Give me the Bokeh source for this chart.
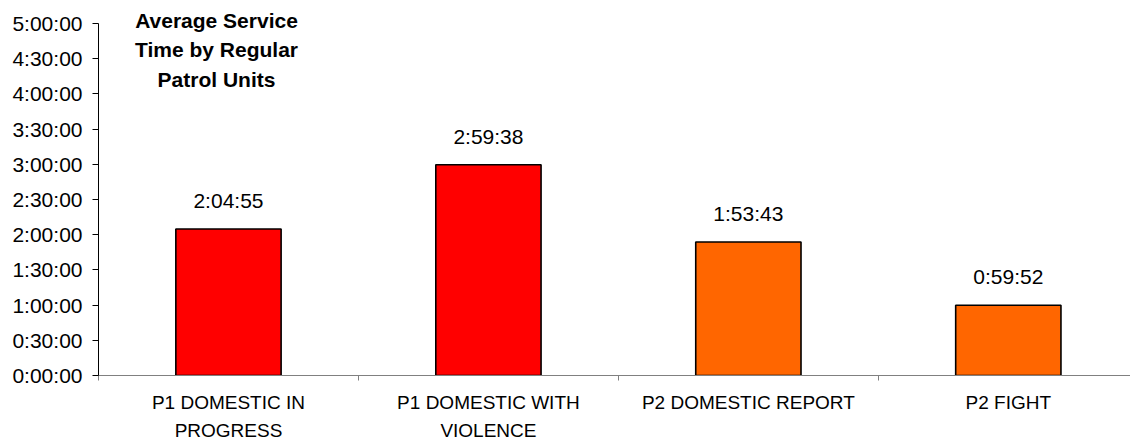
from bokeh.plotting import figure
from bokeh.models import Range1d, FixedTicker, ColumnDataSource, LabelSet, Label
from bokeh.core.properties import value
from bokeh.embed import file_html
from bokeh.resources import INLINE

# ---- data ----
categories = ["P1 DOMESTIC IN\nPROGRESS", "P1 DOMESTIC WITH\nVIOLENCE",
              "P2 DOMESTIC REPORT", "P2 FIGHT"]
service_seconds = [7495, 10778, 6823, 3592]          # 2:04:55, 2:59:38, 1:53:43, 0:59:52
bar_colors = ["#FF0000", "#FF0000", "#FF6600", "#FF6600"]
y_tick_labels = ["0:00:00", "0:30:00", "1:00:00", "1:30:00", "2:00:00", "2:30:00",
                 "3:00:00", "3:30:00", "4:00:00", "4:30:00", "5:00:00"]
y_tick_step = 1800
title_text = "Average Service\nTime by Regular\nPatrol Units"


def hms(s):
    return f"{s // 3600}:{(s % 3600) // 60:02d}:{s % 60:02d}"


centers = [i + 0.5 for i in range(len(categories))]
boundaries = list(range(len(categories) + 1))
y_ticks = [i * y_tick_step for i in range(len(y_tick_labels))]
y_max = y_ticks[-1]

src = ColumnDataSource(dict(x=centers, y=service_seconds, color=bar_colors,
                            label=[hms(v) for v in service_seconds]))

# frame spans the full canvas height above the axis so the title is not clipped;
# the axis itself is bounded to 0:00:00 .. 5:00:00
y_top = y_max * (375 / 352)

p = figure(width=1130, height=445, output_backend="svg", toolbar_location=None,
           x_range=Range1d(0, 3.97), y_range=Range1d(0, y_top),
           min_border_left=98, min_border_right=0, min_border_top=0, min_border_bottom=70)
p.xgrid.visible = False
p.ygrid.visible = False
p.outline_line_color = None
p.background_fill_color = "white"
p.border_fill_color = "white"

p.vbar(x="x", top="y", width=0.405, source=src, fill_color="color",
       line_color="black", line_width=1.6)

labels = LabelSet(x="x", y="y", text="label", source=src, text_align="center",
                  text_baseline="alphabetic", y_offset=21,
                  text_font=value("Liberation Sans"),
                  text_font_size=value("21px"), text_color="black")
p.add_layout(labels)

title = Label(x=0.454, y=y_max, y_offset=15, text=title_text, text_align="center",
              text_baseline="top", text_font="Liberation Sans", text_font_style="bold",
              text_font_size="21px", text_line_height=1.3, text_color="black")
p.add_layout(title)

# x axis
xa = p.xaxis[0]
xa.ticker = FixedTicker(ticks=centers, minor_ticks=boundaries)
xa.major_label_overrides = {c: n for c, n in zip(centers, categories)}
xa.major_tick_out = 0
xa.major_tick_in = 0
xa.minor_tick_out = 5
xa.minor_tick_in = 0
xa.minor_tick_line_color = "#808080"
xa.axis_line_color = "#808080"
xa.major_label_standoff = 11
xa.major_label_text_font = "Liberation Sans"
xa.major_label_text_font_size = "19px"
xa.major_label_text_line_height = 1.38
xa.major_label_text_color = "black"

# y axis
ya = p.yaxis[0]
ya.bounds = (0, y_max)
ya.ticker = FixedTicker(ticks=y_ticks, minor_ticks=[])
ya.major_label_overrides = {t: l for t, l in zip(y_ticks, y_tick_labels)}
ya.major_tick_out = 6
ya.major_tick_in = 0
ya.minor_tick_out = 0
ya.minor_tick_in = 0
ya.axis_line_color = "black"
ya.major_tick_line_color = "black"
ya.major_label_standoff = 10
ya.major_label_text_font = "Liberation Sans"
ya.major_label_text_font_size = "21px"
ya.major_label_text_color = "black"

open("out.html", "w").write(file_html(p, INLINE))
